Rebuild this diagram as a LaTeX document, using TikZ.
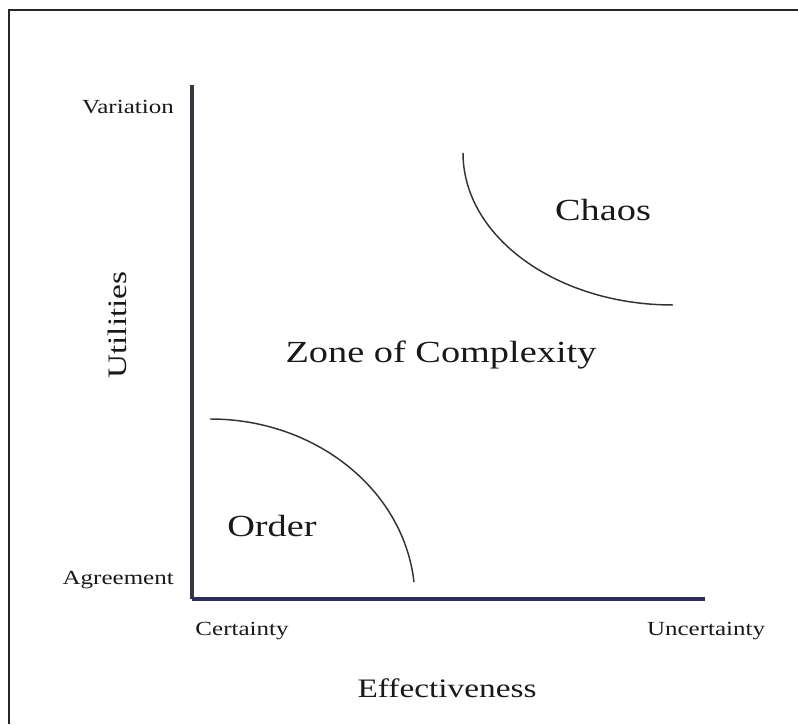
\documentclass[tikz,border=0pt]{standalone}
\usepackage{fontspec}
\setmainfont[FakeStretch=1.25]{Liberation Serif}
\usepackage{xcolor}
\usepackage{tikz}
\usetikzlibrary{positioning}

\definecolor{axisy}{HTML}{3A3545}
\definecolor{axisx}{HTML}{2B2D5A}
\definecolor{curvegray}{HTML}{333333}

\tikzset{
    smalllabel/.style={font=\fontsize{15}{18}\selectfont, text=black!90, inner sep=0pt},
    axistitle/.style={font=\fontsize{20}{24}\selectfont, text=black!90, inner sep=0pt},
    zonelabel/.style={font=\fontsize{23}{28}\selectfont, text=black!90, inner sep=0pt},
    boundary/.style={curvegray, line width=1.1pt},
}

\begin{document}
\begin{tikzpicture}[x=0.75pt, y=0.75pt]
    \useasboundingbox (0,0) rectangle (798,724);

    % Frame
    \draw[line width=1.5pt, black!85] (9,0) -- (9,714) -- (798,714);

    % Axes
    \coordinate (origin) at (192,125);
    \coordinate (ytop) at (192,639);
    \coordinate (xend) at (705,125);
    \draw[axisy, line width=2.4pt] (origin) -- (ytop);
    \draw[axisx, line width=2.4pt] (origin) -- (xend);

    % Axis end labels
    \node[smalllabel, anchor=east] (variation) at (174,617) {Variation};
    \node[smalllabel, anchor=east] (agreement) at (174,144) {Agreement};
    \node[smalllabel] (certainty) at (242,93) {Certainty};
    \node[smalllabel] (uncertainty) at (706,93) {Uncertainty};

    % Axis titles
    \node[axistitle] (effectiveness) at (447,36) {Effectiveness};
    \node[axistitle, rotate=90] (utilities) at (117,399) {Utilities};

    % Boundaries
    \coordinate (ordertop) at (210,305);
    \draw[boundary] (ordertop) arc[start angle=90, end angle=5.7, x radius=153.75pt, y radius=135.75pt];
    \coordinate (chaostop) at (463,571);
    \draw[boundary] (chaostop) arc[start angle=180, end angle=270, x radius=157.5pt, y radius=114pt];

    % Zones
    \node[zonelabel] (chaos) at (603,514) {Chaos};
    \node[zonelabel] (complexity) at (441,369) {Zone of Complexity};
    \node[zonelabel] (order) at (272,198) {Order};
\end{tikzpicture}
\end{document}
